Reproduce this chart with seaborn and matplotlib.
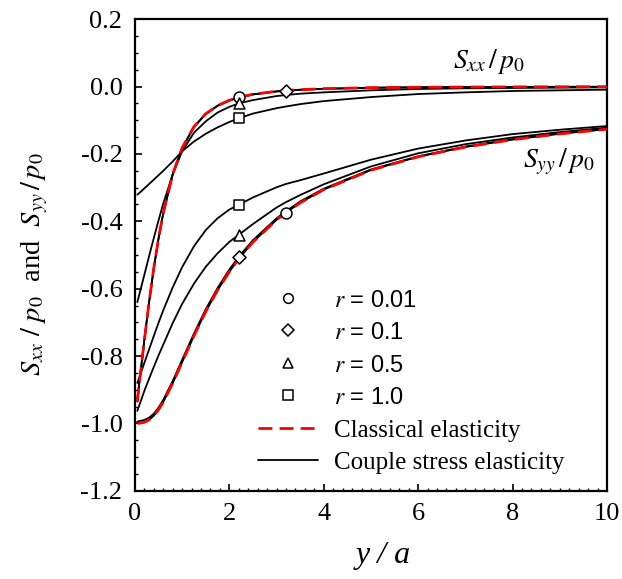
"""
Sxx/p0 与 Syy/p0 沿 y/a 的分布：经典弹性 vs 偶应力弹性
"""

import numpy as np
import pandas as pd
import matplotlib
matplotlib.use("Agg")
import matplotlib.pyplot as plt
from matplotlib.lines import Line2D
import seaborn as sns

# ---- 数据----
y_a = [0.05, 0.1, 0.2, 0.3, 0.4, 0.5, 0.6, 0.8, 1.0, 1.25, 1.5, 1.75, 2.0,
       2.2, 2.5, 3.0, 3.2, 3.5, 4.0, 5.0, 6.0, 7.0, 8.0, 9.0, 10.0]

# 经典弹性
sxx_classical = [-0.9365, -0.8735, -0.7519, -0.6392, -0.5382, -0.4502, -0.3751,
                 -0.2599, -0.1817, -0.1190, -0.0805, -0.0563, -0.0405, -0.0318,
                 -0.0227, -0.0138, -0.0116, -0.0090, -0.0062, -0.0032, -0.0019,
                 -0.0012, -0.0008, -0.0006, -0.0004]
syy_classical = [-0.9999, -0.9996, -0.9968, -0.9897, -0.9773, -0.9595, -0.9368,
                 -0.8810, -0.8183, -0.7401, -0.6682, -0.6047, -0.5498, -0.5114,
                 -0.4618, -0.3958, -0.3741, -0.3453, -0.3058, -0.2481, -0.2084,
                 -0.1795, -0.1575, -0.1403, -0.1265]

# 偶应力弹性
sxx_r001 = [-0.9355, -0.8730, -0.7517, -0.6391, -0.5381, -0.4502, -0.3751,
            -0.2600, -0.1818, -0.1191, -0.0806, -0.0564, -0.0406, -0.0319,
            -0.0228, -0.0139, -0.0117, -0.0091, -0.0062, -0.0032, -0.0019,
            -0.0012, -0.0008, -0.0006, -0.0004]
sxx_r01 = [-0.9250, -0.8680, -0.7500, -0.6385, -0.5380, -0.4505, -0.3756,
           -0.2608, -0.1828, -0.1202, -0.0816, -0.0573, -0.0414, -0.0326,
           -0.0234, -0.0144, -0.0122, -0.0095, -0.0066, -0.0035, -0.0021,
           -0.0013, -0.0009, -0.0007, -0.0005]
sxx_r05 = [-0.640, -0.613, -0.558, -0.503, -0.449, -0.397, -0.347, -0.260,
           -0.192, -0.137, -0.103, -0.077, -0.060, -0.050, -0.040, -0.028,
           -0.025, -0.021, -0.017, -0.011, -0.007, -0.005, -0.004, -0.003,
           -0.002]
sxx_r10 = [-0.321, -0.315, -0.302, -0.289, -0.276, -0.263, -0.250, -0.222,
           -0.192, -0.163, -0.140, -0.121, -0.105, -0.094, -0.080, -0.064,
           -0.059, -0.052, -0.043, -0.031, -0.022, -0.017, -0.013, -0.011,
           -0.009]

syy_r001 = [-0.9995, -0.9993, -0.9966, -0.9895, -0.9771, -0.9593, -0.9366,
            -0.8808, -0.8181, -0.7399, -0.6680, -0.6045, -0.5496, -0.5112,
            -0.4616, -0.3956, -0.3739, -0.3451, -0.3056, -0.2479, -0.2082,
            -0.1793, -0.1573, -0.1401, -0.1263]
syy_r01 = [-0.995, -0.993, -0.990, -0.983, -0.971, -0.953, -0.930, -0.874,
           -0.811, -0.733, -0.661, -0.598, -0.543, -0.505, -0.456, -0.391,
           -0.370, -0.341, -0.303, -0.246, -0.207, -0.178, -0.156, -0.139,
           -0.126]
syy_r05 = [-0.963, -0.943, -0.903, -0.867, -0.832, -0.798, -0.766, -0.702,
           -0.645, -0.585, -0.535, -0.495, -0.461, -0.440, -0.408, -0.359,
           -0.343, -0.322, -0.290, -0.237, -0.198, -0.171, -0.151, -0.135,
           -0.122]
syy_r10 = [-0.880, -0.860, -0.820, -0.780, -0.740, -0.701, -0.664, -0.596,
           -0.536, -0.474, -0.426, -0.391, -0.365, -0.351, -0.329, -0.299,
           -0.289, -0.278, -0.258, -0.217, -0.184, -0.160, -0.141, -0.128,
           -0.117]

r_labels = ["0.01", "0.1", "0.5", "1.0"]
r_markers = ["o", "D", "^", "s"]
sxx_couple = [sxx_r001, sxx_r01, sxx_r05, sxx_r10]
syy_couple = [syy_r001, syy_r01, syy_r05, syy_r10]
# 标记所在的 y/a 位置（Sxx 曲线, Syy 曲线）
mark_x_sxx = [2.2, 3.2, 2.2, 2.2]
mark_x_syy = [3.2, 2.2, 2.2, 2.2]

x_ticks = [0, 2, 4, 6, 8, 10]
y_ticks = [0.2, 0.0, -0.2, -0.4, -0.6, -0.8, -1.0, -1.2]

# ---- 样式 ----
sns.set_style("ticks")
plt.rcParams["font.family"] = ["Liberation Serif", "DejaVu Serif"]
plt.rcParams["mathtext.fontset"] = "stix"
plt.rcParams["axes.unicode_minus"] = False
for key in ("axes.edgecolor", "xtick.color", "ytick.color", "text.color",
            "axes.labelcolor", "xtick.labelcolor", "ytick.labelcolor"):
    plt.rcParams[key] = "black"

fig = plt.figure(figsize=(6.22, 5.79), dpi=100)
ax = fig.add_axes([0.2170, 0.1525, 0.7588, 0.8142])

# 偶应力曲线（黑色实线）
for sxx, syy in zip(sxx_couple, syy_couple):
    for vals in (sxx, syy):
        sns.lineplot(x=y_a, y=vals, ax=ax, color="black", lw=1.3,
                     estimator=None, sort=False, zorder=2)

# 经典弹性（红色虚线）
for vals in (sxx_classical, syy_classical):
    sns.lineplot(x=y_a, y=vals, ax=ax, color="#ff0000", lw=2.0,
                 estimator=None, sort=False, zorder=3, dashes=False,
                 linestyle=(0, (5, 2.6)))

# 标记
for i, m in enumerate(r_markers):
    ix = y_a.index(mark_x_sxx[i])
    iy = y_a.index(mark_x_syy[i])
    pts = pd.DataFrame({"x": [mark_x_sxx[i], mark_x_syy[i]],
                        "y": [sxx_couple[i][ix], syy_couple[i][iy]]})
    sns.scatterplot(data=pts, x="x", y="y", ax=ax, marker=m,
                    s=62 if m != "D" else 44, facecolor="white",
                    edgecolor="black", linewidth=1.1, zorder=5)

ax.set_xlim(0, 10)
ax.set_ylim(-1.2, 0.2)
ax.set_xticks(x_ticks)
ax.set_yticks(y_ticks)
ax.set_xticklabels([str(t) for t in x_ticks])
ax.set_yticklabels([f"{t:.1f}" for t in y_ticks])
ax.xaxis.set_minor_locator(matplotlib.ticker.MultipleLocator(0.2))
ax.yaxis.set_minor_locator(matplotlib.ticker.MultipleLocator(0.05))
ax.tick_params(which="major", direction="in", length=5, width=1.2,
               labelsize=19, pad=9, top=False, right=False)
ax.tick_params(which="minor", direction="in", length=2.5, width=1.0,
               top=False, right=False)
for sp in ax.spines.values():
    sp.set_linewidth(1.6)
    sp.set_color("black")
ax.set_xlabel("")
ax.set_ylabel("")

# 曲线标注
ax.text(7.5, 0.075, r"$S_{xx}\,/\,p_{\mathit{0}}$", fontsize=20,
        ha="center", va="center")
ax.text(8.98, -0.222, r"$S_{yy}\,/\,p_{\mathit{0}}$", fontsize=20,
        ha="center", va="center")

# 坐标轴标题
fig.text(383 / 622, 1 - 555 / 579, "y / a", fontsize=23, style="italic",
         ha="center", va="center")
fig.text(35 / 622, 1 - 264 / 579,
         r"$S_{xx}\ /\ p_{\mathit{0}}$  and  $S_{yy}\,/\,p_{\mathit{0}}$",
         fontsize=20.5, rotation=90, ha="center", va="center")

# 图例
handles = [Line2D([], [], marker=m, ls="none", mfc="white", mec="black",
                  ms=7 if m != "D" else 6.2, mew=1.1) for m in r_markers]
handles += [Line2D([], [], color="#ff0000", lw=2.0, ls=(0, (5, 2.6))),
            Line2D([], [], color="black", lw=1.3)]
labels = [rf"$r$ = {v}" for v in r_labels]
labels += ["Classical elasticity", "Couple stress elasticity"]
leg = ax.legend(handles, labels, loc="lower left",
                bbox_to_anchor=(0.26, 0.035), frameon=False, fontsize=18,
                handlelength=2.4, handletextpad=0.65, labelspacing=0.4,
                borderpad=0, borderaxespad=0)
for t in leg.get_texts()[:4]:
    t.set_family(["Liberation Sans", "DejaVu Sans"])
    t.set_fontsize(17)

fig.savefig("out.png", dpi=100)
